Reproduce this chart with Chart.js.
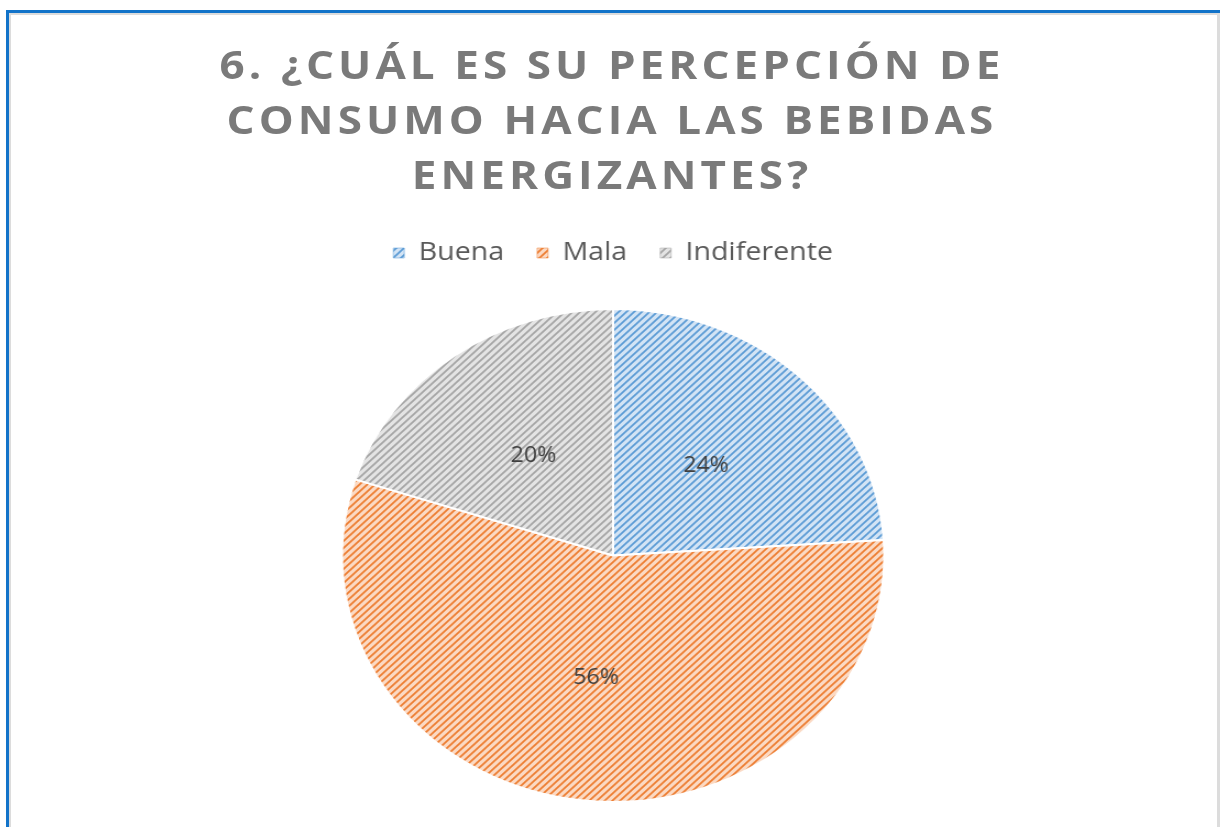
<!DOCTYPE html>
<html>
<head>
<meta charset="utf-8">
<script src="https://cdn.jsdelivr.net/npm/chart.js@4.4.1/dist/chart.umd.min.js"></script>
<style>
  body { margin: 0; background: #fff; width: 1220px; height: 827px; overflow: hidden; position: relative; }
  #frame { position: absolute; left: 6px; top: 10px; width: 1211px; height: 830px;
           border-top: 3px solid #1273c9; border-left: 3px solid #1273c9; }
  #inner { position: absolute; left: 0; top: 0; right: 0; bottom: 0;
           border-top: 2px solid #dcdcdc; border-left: 2px solid #dcdcdc; border-right: 3px solid #dcdcdc; }
  #content { position: absolute; left: 7px; top: 0; width: 1100px; height: 827px;
             transform: scaleX(1.1); transform-origin: 0 0; }
  #title { position: absolute; top: 36px; left: 0; width: 100%; text-align: center;
           font-family: "Open Sans", sans-serif; font-weight: 700; font-size: 40px;
           letter-spacing: 3.7px; line-height: 55px; color: #7a7a7a; }
  #chartBox { position: absolute; left: 0; top: 210px; width: 1100px; height: 617px; }
</style>
</head>
<body>
<div id="frame"><div id="inner"></div></div>
<div id="content">
  <div id="title"></div>
  <div id="chartBox"><canvas id="pie-chart"></canvas></div>
</div>
<script>
"use strict";

// chart data
const titleLines = ["6. ¿CUÁL ES SU PERCEPCIÓN DE", "CONSUMO HACIA LAS BEBIDAS", "ENERGIZANTES?"];
const categories = ["Buena", "Mala", "Indiferente"];
const percentages = [24, 56, 20];
const lineColors = ["#5b9bd5", "#ed7d31", "#a5a5a5"];
const tintColors = ["#d3e4f5", "#fbdac4", "#e4e4e4"];

titleLines.forEach(function (t) {
  const d = document.createElement("div");
  d.textContent = t;
  document.getElementById("title").appendChild(d);
});

// diagonal hatch like the excel pattern fill
function makeHatch(color, tint) {
  const s = 7;
  const c = document.createElement("canvas");
  c.width = s; c.height = s;
  const g = c.getContext("2d");
  g.fillStyle = tint;
  g.fillRect(0, 0, s, s);
  g.strokeStyle = color;
  g.lineWidth = 1.7;
  g.beginPath();
  g.moveTo(-1, s + 1); g.lineTo(s + 1, -1);
  g.moveTo(-2, 2); g.lineTo(2, -2);
  g.moveTo(s - 2, s + 2); g.lineTo(s + 2, s - 2);
  g.stroke();
  return g.createPattern(c, "repeat");
}

const patterns = lineColors.map(function (c, i) { return makeHatch(c, tintColors[i]); });

const labelPlugin = {
  id: "sliceLabels",
  afterDatasetsDraw(chart) {
    const ctx = chart.ctx;
    const meta = chart.getDatasetMeta(0);
    ctx.save();
    ctx.font = "21px 'Open Sans', sans-serif";
    ctx.fillStyle = "#404040";
    ctx.textAlign = "center";
    ctx.textBaseline = "middle";
    meta.data.forEach(function (arc, i) {
      const p = arc.getProps(["x", "y", "startAngle", "endAngle", "outerRadius"], true);
      const mid = (p.startAngle + p.endAngle) / 2;
      const r = p.outerRadius * 0.5;
      ctx.fillText(percentages[i] + "%", p.x + Math.cos(mid) * r, p.y + Math.sin(mid) * r);
    });
    ctx.restore();
  }
};

// extra room under the legend
const legendGap = {
  id: "legendGap",
  beforeInit(chart) {
    const fit = chart.legend.fit;
    chart.legend.fit = function () {
      fit.bind(chart.legend)();
      this.height += 32;
    };
  }
};

function renderChart(canvasId) {
  const ctx = document.getElementById(canvasId).getContext("2d");
  return new Chart(ctx, {
    type: "pie",
    data: {
      labels: categories,
      datasets: [{
        data: percentages,
        backgroundColor: patterns,
        borderColor: "#ffffff",
        borderWidth: 2
      }]
    },
    options: {
      responsive: true,
      maintainAspectRatio: false,
      animation: false,
      layout: { padding: { top: 0, bottom: 24, left: 2 } },
      plugins: {
        tooltip: { enabled: false },
        legend: {
          position: "top",
          labels: {
            boxWidth: 10,
            boxHeight: 10,
            padding: 30,
            color: "#595959",
            font: { family: "'Open Sans', sans-serif", size: 26 },
            generateLabels(chart) {
              return categories.map(function (name, i) {
                return {
                  text: name,
                  fillStyle: patterns[i],
                  strokeStyle: lineColors[i],
                  lineWidth: 0.5,
                  fontColor: "#595959",
                  hidden: false,
                  index: i
                };
              });
            }
          }
        }
      }
    },
    plugins: [labelPlugin, legendGap]
  });
}

const pieChart = renderChart("pie-chart");
</script>
</body>
</html>
